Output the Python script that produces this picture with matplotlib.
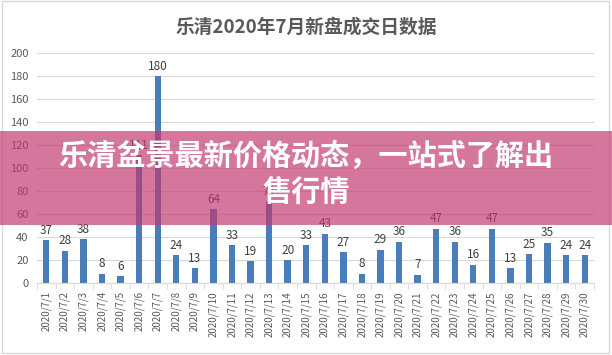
import matplotlib
matplotlib.use('Agg')
import matplotlib.pyplot as plt
from matplotlib.patches import Rectangle
import numpy as np

plt.rcParams['font.family'] = ['Noto Sans CJK SC', 'DejaVu Sans']

# 数据
days = ['2020/7/%d' % d for d in range(1, 31)]
values = [37, 28, 38, 8, 6, 111, 180, 24, 13, 64, 33, 19, 71, 20, 33,
          43, 27, 8, 29, 36, 7, 47, 36, 16, 47, 13, 25, 35, 24, 24]
title = '乐清2020年7月新盘成交日数据'
banner_lines = ['乐清盆景最新价格动态，一站式了解出', '售行情']

W, H = 612, 355
fig = plt.figure(figsize=(W / 100, H / 100), dpi=100)
fig.patch.set_facecolor('white')

# 外框
fig.patches.append(Rectangle((0.003, 0.006), 0.992, 0.99, transform=fig.transFigure,
                             fill=False, edgecolor='#d9d9d9', linewidth=1))

ax = fig.add_axes([37 / W, (H - 283) / H, (594 - 37) / W, (283 - 53) / H])
x = np.arange(len(values))
ax.bar(x, values, width=0.34, color='#4a7ebb', zorder=2)
for xi, v in zip(x, values):
    ax.text(xi, v + 3, str(v), ha='center', va='bottom', fontsize=8.5, color='#404040')

ax.set_xlim(-0.5, len(values) - 0.5)
ax.set_ylim(0, 200)
ax.set_yticks(range(0, 201, 20))
ax.grid(axis='y', color='#d9d9d9', linewidth=0.8, zorder=0)
for s in ['top', 'right', 'left']:
    ax.spines[s].set_visible(False)
ax.spines['bottom'].set_color('#d9d9d9')
ax.tick_params(axis='y', length=0, labelsize=8, labelcolor='#595959', pad=6)
ax.set_xticks(x)
ax.set_xticklabels(days, rotation=90, fontsize=7, color='#595959')
ax.tick_params(axis='x', which='major', length=0, pad=6)
ax.set_xticks(np.arange(-0.5, len(values), 1), minor=True)
ax.tick_params(axis='x', which='minor', length=4, color='#d9d9d9')

fig.text(0.5, (H - 27) / H, title, ha='center', va='center', fontsize=13.5,
         fontweight='bold', color='#595959')

# 粉色横幅
fig.patches.append(Rectangle((0, (H - 225) / H), 1, 94 / H, transform=fig.transFigure,
                             facecolor='#c2376f', alpha=0.68, edgecolor='none', zorder=5))
fig.text(0.5, (H - 156) / H, banner_lines[0], ha='center', va='center', fontsize=21,
         fontweight='bold', color='white', zorder=6)
fig.text(0.5, (H - 192) / H, banner_lines[1], ha='center', va='center', fontsize=21,
         fontweight='bold', color='white', zorder=6)

fig.savefig('out.png', dpi=100)
